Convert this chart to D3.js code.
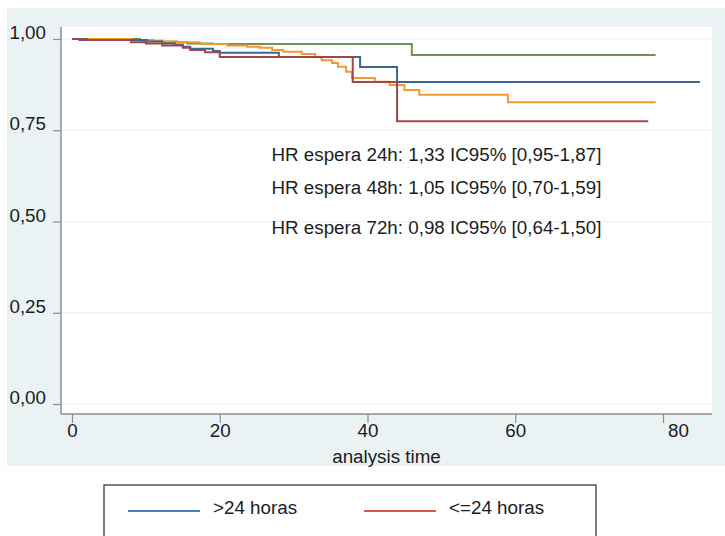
<!DOCTYPE html>
<html>
<head>
<meta charset="utf-8">
<script src="https://cdn.jsdelivr.net/npm/d3@7"></script>
<style>
  html, body { margin: 0; padding: 0; background: #ffffff; }
  svg { display: block; font-family: "Liberation Sans", Arial, Helvetica, sans-serif; }
</style>
</head>
<body>
<svg id="chart" width="725" height="536"></svg>
<script>
// Kaplan-Meier survival estimates: step times and survival after each step
const blueTimes   = [0, 1, 10.1, 12.2, 13.9, 15, 16, 19.1, 20, 28, 39, 44];
const blueSurv    = [1, 0.997, 0.993, 0.988, 0.984, 0.979, 0.973, 0.967, 0.962, 0.951, 0.923, 0.882];
const blueEnd     = 85;

const redTimes    = [0, 2, 8, 10, 12.2, 15, 16, 18, 20, 38, 44];
const redSurv     = [1, 0.997, 0.991, 0.988, 0.982, 0.976, 0.970, 0.964, 0.951, 0.882, 0.775];
const redEnd      = 78;

const greenTimes  = [0, 9.2, 12.3, 15.6, 19, 46];
const greenSurv   = [1, 0.995, 0.991, 0.988, 0.986, 0.956];
const greenEnd    = 79;

const orangeTimes = [0, 8.1, 11, 14.2, 17.3, 21, 23.7, 25.4, 27.1, 28.6, 31.1, 32.9, 33.8, 35.2, 36, 37.1, 37.9, 41, 43, 45, 47, 59];
const orangeSurv  = [1, 0.997, 0.994, 0.991, 0.986, 0.982, 0.979, 0.976, 0.970, 0.965, 0.959, 0.950, 0.942, 0.934, 0.924, 0.910, 0.893, 0.883, 0.874, 0.860, 0.847, 0.827];
const orangeEnd   = 79;

// Axis ticks
const xTicks = [0, 20, 40, 60, 80];
const yTicks = [0, 0.25, 0.5, 0.75, 1];

// Hazard ratio annotations
const hrLabels = [
  "HR espera 24h: 1,33 IC95% [0,95-1,87]",
  "HR espera 48h: 1,05 IC95% [0,70-1,59]",
  "HR espera 72h: 0,98 IC95% [0,64-1,50]"
];

// Legend entries shown in the key
const legendLabels = [">24 horas", "<=24 horas"];

// ---- layout ----
const svg = d3.select("#chart");
const outer = { left: 7, top: 8, right: 725, bottom: 466 };
const plot  = { left: 61, top: 27, right: 712, bottom: 414 };
const fontSize = 18.8;
const textColor = "#1c1c1c";
const axisColor = "#8a8f91";
const gridColor = "#e9f1f3";

const x = d3.scaleLinear().domain([0, 80]).range([72, 663]);
const y = d3.scaleLinear().domain([0, 1]).range([404, 39]);

// graph region and plot region
svg.append("rect")
  .attr("x", outer.left).attr("y", outer.top)
  .attr("width", outer.right - outer.left).attr("height", outer.bottom - outer.top)
  .attr("fill", "#eaf2f4");
svg.append("rect")
  .attr("x", plot.left).attr("y", plot.top)
  .attr("width", plot.right - plot.left).attr("height", plot.bottom - plot.top)
  .attr("fill", "#ffffff");

// horizontal grid lines
svg.append("g").selectAll("line").data(yTicks).join("line")
  .attr("x1", plot.left + 1).attr("x2", plot.right)
  .attr("y1", d => y(d)).attr("y2", d => y(d))
  .attr("stroke", gridColor).attr("stroke-width", 1.2);

// survival curves
const series = [
  { times: greenTimes,  surv: greenSurv,  end: greenEnd,  color: "#72904f" },
  { times: orangeTimes, surv: orangeSurv, end: orangeEnd, color: "#f19a32" },
  { times: blueTimes,   surv: blueSurv,   end: blueEnd,   color: "#3c6594" },
  { times: redTimes,    surv: redSurv,    end: redEnd,    color: "#a2464d" }
];
const stepLine = d3.line()
  .x(d => x(d[0])).y(d => y(d[1]))
  .curve(d3.curveStepAfter);
series.forEach(s => {
  const pts = s.times.map((t, i) => [t, s.surv[i]]);
  pts.push([s.end, s.surv[s.surv.length - 1]]);
  svg.append("path")
    .datum(pts)
    .attr("d", stepLine)
    .attr("fill", "none")
    .attr("stroke", s.color)
    .attr("stroke-width", 2);
});

// y axis
const yAxis = svg.append("g")
  .attr("transform", `translate(${plot.left},0)`)
  .call(d3.axisLeft(y).tickValues(yTicks).tickSize(8).tickPadding(7)
    .tickFormat(d => d3.format(".2f")(d).replace(".", ",")));
yAxis.select(".domain").remove();
yAxis.selectAll(".tick line").attr("stroke", axisColor).attr("stroke-width", 1.2);
yAxis.selectAll(".tick text")
  .attr("dy", "-0.5")
  .attr("font-size", fontSize).attr("font-family", null).attr("fill", textColor);

// x axis
const xAxis = svg.append("g")
  .attr("transform", `translate(0,${plot.bottom})`)
  .call(d3.axisBottom(x).tickValues(xTicks).tickSize(9).tickPadding(1));
xAxis.select(".domain").remove();
xAxis.selectAll(".tick line").attr("stroke", axisColor).attr("stroke-width", 1.2);
xAxis.selectAll(".tick text")
  .attr("font-size", fontSize).attr("font-family", null).attr("fill", textColor)
  .attr("dx", (d, i) => i === xTicks.length - 1 ? 15 : 0);

// axis lines
svg.append("line")
  .attr("x1", plot.left).attr("x2", plot.left)
  .attr("y1", plot.top).attr("y2", plot.bottom)
  .attr("stroke", axisColor).attr("stroke-width", 1.5);
svg.append("line")
  .attr("x1", plot.left).attr("x2", plot.right)
  .attr("y1", plot.bottom).attr("y2", plot.bottom)
  .attr("stroke", axisColor).attr("stroke-width", 1.5);

// x axis title
svg.append("text")
  .attr("x", (plot.left + plot.right) / 2).attr("y", 463)
  .attr("text-anchor", "middle")
  .attr("font-size", fontSize).attr("fill", textColor)
  .text("analysis time");

// hazard ratio annotations, placed in data coordinates
const hrX = 27;
const hrY = [0.665, 0.574, 0.465];
svg.append("g").selectAll("text").data(hrLabels).join("text")
  .attr("x", x(hrX))
  .attr("y", (d, i) => y(hrY[i]))
  .attr("font-size", fontSize).attr("fill", textColor)
  .text(d => d);

// legend
const legendBox = { left: 104, top: 485, right: 596 };
svg.append("rect")
  .attr("x", legendBox.left).attr("y", legendBox.top)
  .attr("width", legendBox.right - legendBox.left).attr("height", 80)
  .attr("fill", "#ffffff").attr("stroke", "#3a3a3a").attr("stroke-width", 1.3);
const keyColors = ["#4f7db6", "#d5574b"];
const keyX = [128, 364];
const keyLen = 72;
const legendRow = svg.append("g").selectAll("g").data(legendLabels).join("g")
  .attr("transform", (d, i) => `translate(${keyX[i]},511)`);
legendRow.append("line")
  .attr("x1", 0).attr("x2", keyLen).attr("y1", 0).attr("y2", 0)
  .attr("stroke", (d, i) => keyColors[i]).attr("stroke-width", 2);
legendRow.append("text")
  .attr("x", keyLen + 13).attr("y", 3)
  .attr("font-size", fontSize).attr("fill", textColor)
  .text(d => d);
</script>
</body>
</html>
